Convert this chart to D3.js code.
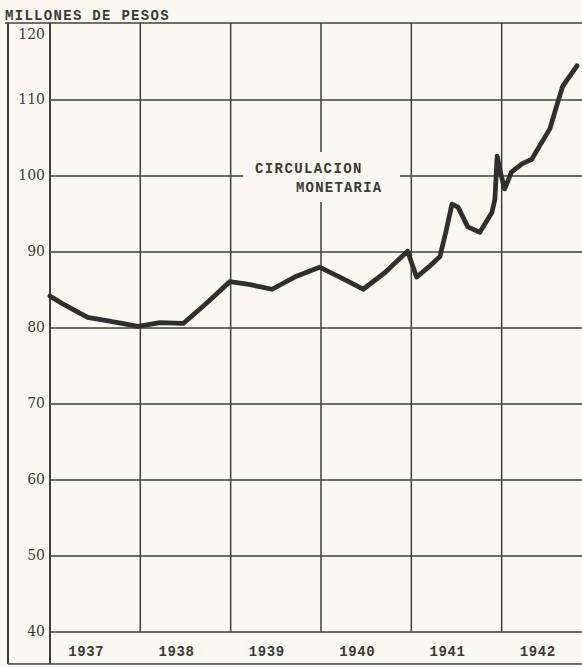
<!DOCTYPE html>
<html lang="es">
<head>
<meta charset="UTF-8">
<title>Circulacion monetaria</title>
<script src="https://d3js.org/d3.v7.min.js"></script>
<style>
  body { margin: 0; background: #fbf9f1; }
  svg { display: block; }
  .type { font-family: "Liberation Mono", monospace; font-weight: bold; fill: #3a3a3a; }
  .ylab { font-family: "DejaVu Serif", serif; font-size: 14px; fill: #3a3a3a; }
  .grid { stroke: #3f3f3f; stroke-width: 1.5; }
</style>
</head>
<body>
<div id="chart"></div>
<script>
// months elapsed since January 1937
const months = [0, 2.0, 5.0, 7.9, 11.7, 14.6, 17.7, 20.6, 23.9, 26.6, 29.5, 32.5, 35.8, 38.5,
                41.6, 44.5, 47.5, 48.7, 50.4, 51.8, 52.6, 53.4, 54.2, 55.5, 57.1, 58.7, 59.1,
                59.4, 59.9, 60.4, 61.3, 62.7, 64.0, 65.0, 66.4, 67.3, 68.1, 70.0];
// millones de pesos
const values = [84.2, 83.0, 81.4, 80.9, 80.2, 80.7, 80.6, 83.1, 86.1, 85.7, 85.1, 86.7, 88.0, 86.7,
                85.1, 87.3, 90.1, 86.7, 88.1, 89.4, 92.7, 96.3, 95.9, 93.3, 92.6, 95.2, 96.9,
                102.6, 100.2, 98.3, 100.5, 101.6, 102.2, 103.9, 106.2, 109.2, 111.8, 114.5];
const years = [1937, 1938, 1939, 1940, 1941, 1942];
const yTicks = [40, 50, 60, 70, 80, 90, 100, 110, 120];

const width = 582, height = 667;
const plotLeft = 50, plotTop = 24, plotBottom = 632;

const svg = d3.select("#chart").append("svg")
    .attr("width", width).attr("height", height);

const x = d3.scaleLinear().domain([0, 72]).range([plotLeft, plotLeft + 542]);
const y = d3.scaleLinear().domain([40, 120]).range([plotBottom, plotTop]);

// horizontal grid
svg.append("g").selectAll("line")
    .data(yTicks.filter(d => d < 120))
    .join("line").attr("class", "grid")
    .attr("x1", plotLeft).attr("x2", width)
    .attr("y1", d => y(d)).attr("y2", d => y(d));

// top border
svg.append("line").attr("class", "grid")
    .attr("x1", 5).attr("x2", width).attr("y1", y(120) - 1).attr("y2", y(120) - 1);

// vertical grid (year boundaries)
svg.append("g").selectAll("line")
    .data(d3.range(1, 6))
    .join("line").attr("class", "grid")
    .attr("x1", d => x(d * 12)).attr("x2", d => x(d * 12))
    .attr("y1", y(120) - 1).attr("y2", plotBottom);

// axis and outer frame
svg.append("line").attr("class", "grid").style("stroke-width", 2)
    .attr("x1", plotLeft).attr("x2", plotLeft).attr("y1", y(120) - 1).attr("y2", 664);
svg.append("line").attr("class", "grid").style("stroke-width", 2)
    .attr("x1", 8).attr("x2", 8).attr("y1", y(120) - 1).attr("y2", 664);
svg.append("line").attr("class", "grid")
    .attr("x1", 8).attr("x2", width).attr("y1", 664).attr("y2", 664);

// y labels
svg.append("g").selectAll("text")
    .data(yTicks)
    .join("text").attr("class", "ylab")
    .attr("x", 45)
    .attr("y", d => d === 120 ? y(d) + 11 : y(d))
    .attr("text-anchor", "end")
    .attr("dominant-baseline", "middle")
    .text(d => d);

// x labels
svg.append("g").selectAll("text")
    .data(years)
    .join("text").attr("class", "type")
    .attr("x", (d, i) => x(i * 12 + 4.8))
    .attr("y", 656)
    .attr("text-anchor", "middle")
    .style("font-size", "14px")
    .style("letter-spacing", "0.6px")
    .text(d => d);

// title
svg.append("text").attr("class", "type")
    .attr("x", 5).attr("y", 20)
    .style("font-size", "14px").style("letter-spacing", "1.3px")
    .text("MILLONES DE PESOS");

// label box over the grid
svg.append("rect")
    .attr("x", 243).attr("y", 152).attr("width", 157).attr("height", 50)
    .attr("fill", "#fbf9f1");
svg.append("text").attr("class", "type")
    .attr("x", 255).attr("y", 173)
    .style("font-size", "14px").style("letter-spacing", "1.4px")
    .text("CIRCULACION");
svg.append("text").attr("class", "type")
    .attr("x", 296).attr("y", 192)
    .style("font-size", "14px").style("letter-spacing", "1.2px")
    .text("MONETARIA");

// series
const line = d3.line()
    .x((d, i) => x(months[i]))
    .y(d => y(d));

svg.append("path")
    .datum(values)
    .attr("d", line)
    .attr("fill", "none")
    .attr("stroke", "#2f2f2f")
    .attr("stroke-width", 4.8)
    .attr("stroke-linejoin", "round")
    .attr("stroke-linecap", "round");
</script>
</body>
</html>
